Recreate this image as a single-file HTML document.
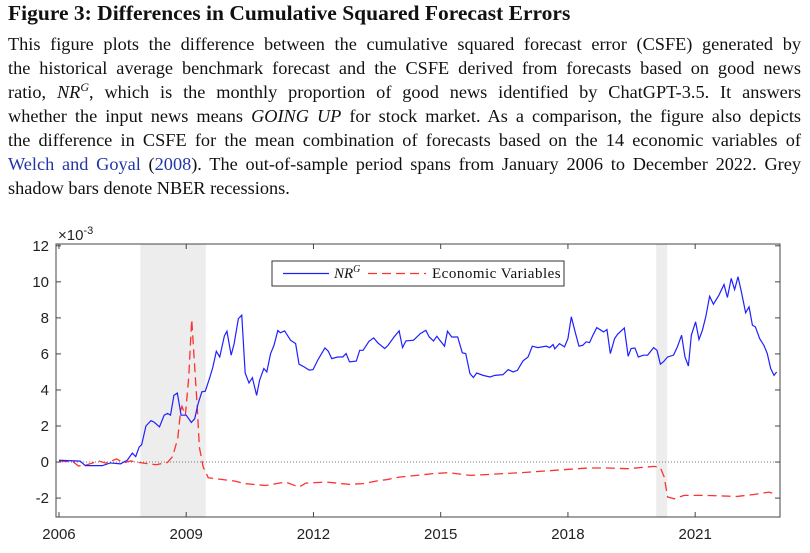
<!DOCTYPE html>
<html><head><meta charset="utf-8">
<style>
body{margin:0;background:#fff;width:810px;height:553px;overflow:hidden;position:relative;font-family:"Liberation Serif",serif;color:#111}
.t{position:absolute;left:8px;width:793px;font-size:18.3px;line-height:24px;white-space:nowrap;text-align:justify;text-align-last:justify}
.last{text-align-last:left}
#title{position:absolute;left:8px;top:1px;font-size:21.5px;font-weight:bold;white-space:nowrap}
a{color:#2236a8;text-decoration:none}
svg{position:absolute;left:0;top:0}
</style></head><body>
<div id="title">Figure 3: Differences in Cumulative Squared Forecast Errors</div>
<div class="t" style="top:32px">This figure plots the difference between the cumulative squared forecast error (CSFE) generated by</div>
<div class="t" style="top:56px">the historical average benchmark forecast and the CSFE derived from forecasts based on good news</div>
<div class="t" style="top:80px">ratio, <i>NR<sup style="font-size:12px;line-height:0">G</sup></i>, which is the monthly proportion of good news identified by ChatGPT-3.5. It answers</div>
<div class="t" style="top:104px">whether the input news means <i>GOING UP</i> for stock market. As a comparison, the figure also depicts</div>
<div class="t" style="top:128px">the difference in CSFE for the mean combination of forecasts based on the 14 economic variables of</div>
<div class="t" style="top:152px"><a href="#">Welch and Goyal</a> (<a href="#">2008</a>). The out-of-sample period spans from January 2006 to December 2022. Grey</div>
<div class="t last" style="top:176px">shadow bars denote NBER recessions.</div>
<svg id="chart" width="810" height="553"></svg>
<script>
const nrDates=[2006.0,2006.5,2006.62,2007.02,2007.21,2007.45,2007.61,2007.73,2007.81,2007.89,2007.95,2008.05,2008.17,2008.25,2008.37,2008.48,2008.56,2008.63,2008.71,2008.79,2008.88,2009.0,2009.12,2009.2,2009.28,2009.37,2009.45,2009.56,2009.63,2009.71,2009.79,2009.9,2009.96,2010.06,2010.13,2010.23,2010.31,2010.39,2010.48,2010.56,2010.66,2010.73,2010.83,2010.9,2010.99,2011.07,2011.16,2011.22,2011.32,2011.46,2011.58,2011.66,2011.78,2011.9,2011.99,2012.1,2012.17,2012.27,2012.35,2012.43,2012.57,2012.69,2012.77,2012.85,2013.01,2013.09,2013.17,2013.31,2013.42,2013.52,2013.68,2013.76,2013.9,2014.02,2014.1,2014.18,2014.36,2014.52,2014.65,2014.73,2014.83,2014.91,2014.98,2015.09,2015.16,2015.26,2015.4,2015.51,2015.59,2015.69,2015.77,2015.85,2016.0,2016.16,2016.28,2016.47,2016.59,2016.71,2016.81,2016.94,2017.06,2017.16,2017.29,2017.49,2017.57,2017.65,2017.69,2017.8,2017.92,2018.0,2018.08,2018.17,2018.26,2018.35,2018.43,2018.51,2018.59,2018.68,2018.78,2018.84,2018.92,2019.0,2019.1,2019.17,2019.33,2019.42,2019.49,2019.58,2019.66,2019.78,2019.88,2020.02,2020.1,2020.18,2020.25,2020.35,2020.49,2020.58,2020.68,2020.76,2020.84,2020.91,2021.01,2021.09,2021.17,2021.25,2021.34,2021.43,2021.56,2021.68,2021.76,2021.85,2021.93,2022.01,2022.09,2022.19,2022.27,2022.35,2022.42,2022.52,2022.62,2022.7,2022.78,2022.86,2022.92];
const nrValues=[0.1,0.05,-0.2,-0.2,-0.05,-0.1,0.1,0.5,0.3,0.83,0.96,2.0,2.3,2.2,1.95,2.6,2.7,2.6,3.7,3.83,2.6,2.6,2.2,2.4,3.24,3.9,3.93,4.72,5.28,6.15,5.83,7.0,7.26,5.93,6.57,7.96,8.15,4.94,4.39,4.68,3.7,4.54,5.19,5.0,6.02,6.48,7.3,7.17,7.28,6.76,6.57,5.43,5.28,5.1,5.13,5.65,5.93,6.33,6.15,5.74,5.83,5.83,6.02,5.56,5.6,6.2,6.2,6.7,6.89,6.61,6.3,6.48,6.94,7.28,6.35,6.72,6.76,7.13,7.31,6.94,6.72,6.98,6.76,6.43,7.26,6.94,6.94,6.06,6.02,4.91,4.69,4.94,4.81,4.72,4.81,4.85,5.13,5.0,5.09,5.61,5.83,6.43,6.35,6.43,6.35,6.52,6.28,6.57,6.39,6.85,8.06,7.22,6.43,6.48,6.67,6.63,7.04,7.46,7.31,7.22,7.35,6.02,6.85,7.09,7.44,5.87,6.3,6.33,5.83,5.93,5.93,6.35,6.2,5.43,5.56,5.83,5.93,6.39,7.04,5.83,5.33,7.04,7.78,6.8,7.31,8.06,9.2,8.76,9.26,9.85,9.13,10.19,9.57,10.28,9.44,8.28,8.61,7.59,7.5,6.85,6.48,6.02,5.19,4.81,5.0];
const ecoDates=[2006.0,2006.34,2006.46,2006.66,2006.94,2007.1,2007.36,2007.53,2007.69,2007.93,2008.29,2008.56,2008.68,2008.8,2008.87,2008.9,2008.98,2009.06,2009.13,2009.19,2009.26,2009.31,2009.4,2009.52,2009.75,2010.15,2010.39,2010.87,2011.34,2011.66,2011.82,2012.3,2012.85,2013.17,2013.56,2013.72,2014.04,2014.44,2014.79,2015.18,2015.69,2016.12,2016.9,2017.69,2018.47,2018.94,2019.41,2020.04,2020.18,2020.27,2020.35,2020.51,2020.74,2021.21,2021.99,2022.38,2022.74,2022.92];
const ecoValues=[0.06,0.0,-0.22,-0.15,0.06,-0.06,0.17,-0.04,0.06,-0.04,-0.15,-0.02,0.31,1.3,2.87,3.09,2.59,4.72,7.91,5.65,3.06,0.83,-0.28,-0.87,-0.94,-1.06,-1.2,-1.3,-1.11,-1.39,-1.17,-1.11,-1.24,-1.2,-1.02,-0.98,-0.83,-0.74,-0.65,-0.59,-0.74,-0.69,-0.59,-0.46,-0.33,-0.33,-0.37,-0.24,-0.31,-0.83,-1.94,-2.04,-1.85,-1.85,-1.91,-1.8,-1.67,-1.81];
const recessions=[[2007.92,2009.46],[2020.08,2020.34]];
const yTicks=[-2,0,2,4,6,8,10,12];
const xTicks=[2006,2009,2012,2015,2018,2021];

const L=56,R=780,T=244,B=517;
const X0=2005.93,X1=2023.0,Y0=-3.05,Y1=12.1;
const sx=v=>L+(v-X0)/(X1-X0)*(R-L);
const sy=v=>B-(v-Y0)/(Y1-Y0)*(B-T);
const svg=document.getElementById('chart');
const NS='http://www.w3.org/2000/svg';
function mk(tag,attrs,parent){const e=document.createElementNS(NS,tag);for(const k in attrs)e.setAttribute(k,attrs[k]);(parent||svg).appendChild(e);return e;}

recessions.forEach(r=>{
  const e=mk('rect',{x:sx(r[0]),y:T,width:sx(r[1])-sx(r[0]),height:B-T,fill:'#ededed'});
  
  
});
const z=mk('line',{x1:L,x2:R,y1:sy(0),y2:sy(0),stroke:'#777','stroke-width':1,'stroke-dasharray':'1 2'});



const eco=mk('polyline',{points:ecoDates.map((d,i)=>sx(d)+','+sy(ecoValues[i])).join(' '),fill:'none',stroke:'#ff3030','stroke-width':1.3,'stroke-dasharray':'9 5'});


const nr=mk('polyline',{points:nrDates.map((d,i)=>sx(d)+','+sy(nrValues[i])).join(' '),fill:'none',stroke:'#2020ff','stroke-width':1.2});



const frame=mk('rect',{x:L,y:T,width:R-L,height:B-T,fill:'none',stroke:'#444','stroke-width':1});



yTicks.forEach(v=>{
  const y=sy(v);
  mk('line',{x1:L,x2:L+5,y1:y,y2:y,stroke:'#444'});
  mk('line',{x1:R,x2:R-5,y1:y,y2:y,stroke:'#444'});
  const t=mk('text',{x:L-7,y:y+5,'text-anchor':'end','font-family':'Liberation Sans, sans-serif','font-size':15,fill:'#222'});
  t.textContent=v;
  
  
});
xTicks.forEach(v=>{
  const x=sx(v);
  mk('line',{x1:x,x2:x,y1:B,y2:B-5,stroke:'#444'});
  mk('line',{x1:x,x2:x,y1:T,y2:T+5,stroke:'#444'});
  const t=mk('text',{x:x,y:B+22,'text-anchor':'middle','font-family':'Liberation Sans, sans-serif','font-size':15,fill:'#222'});
  t.textContent=v;
  
  
});
const ex=mk('text',{x:58,y:240,'font-family':'Liberation Sans, sans-serif','font-size':15,fill:'#222'});
ex.innerHTML='×10<tspan dy="-6" font-size="11">-3</tspan>';



const lg=mk('g',{});


mk('rect',{x:272,y:261,width:292,height:25,fill:'#fff',stroke:'#333','stroke-width':1},lg);
mk('line',{x1:283,x2:329,y1:273.5,y2:273.5,stroke:'#2020ff','stroke-width':1.2},lg);
const l1=mk('text',{x:334,y:278,'font-family':'Liberation Serif, serif','font-size':15,'font-style':'italic',fill:'#111'},lg);
l1.innerHTML='NR<tspan dy="-6" font-size="10">G</tspan>';


mk('line',{x1:368,x2:426,y1:273.5,y2:273.5,stroke:'#ff3030','stroke-width':1.3,'stroke-dasharray':'9 5'},lg);
const l2=mk('text',{x:432,y:278,'font-family':'Liberation Serif, serif','font-size':15,'letter-spacing':'0.5',fill:'#111'},lg);
l2.textContent='Economic Variables';


</script>
</body></html>
